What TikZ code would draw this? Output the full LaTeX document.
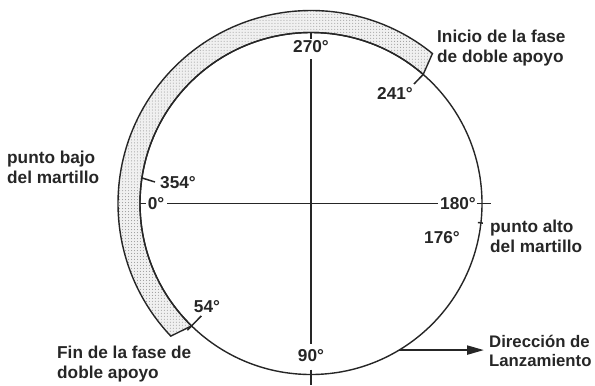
\documentclass[tikz,border=0pt]{standalone}
\usepackage{fontspec}
\setmainfont{Liberation Sans}
\usetikzlibrary{patterns,arrows.meta,calc}
\begin{document}
\begin{tikzpicture}[x=1bp,y=-1bp,
  lbl/.style={font=\fontsize{17.3}{20}\selectfont\bfseries, text=black!85, inner sep=0pt},
  txt/.style={lbl, align=left, anchor=west},
  axis/.style={line width=1.8bp, draw=black!85},
  rim/.style={line width=1.4bp, draw=black!85},
  tickln/.style={line width=1.5bp, draw=black!85}]
\useasboundingbox (0,0) rectangle (595,385);
\coordinate (c) at (311,203.5);
% shaded band (double support phase)
\draw[rim, preaction={fill=gray!12}, pattern=dots, pattern color=gray!85]
  ($(c)+(134.3:171)$) arc[start angle=134.3,end angle=311,radius=171]
  -- ($(c)+(309:193)$) arc[start angle=309,end angle=136.6,radius=193] -- cycle;
% main circle
\draw[rim] (c) circle[radius=171];
% labels
\node[lbl, outer sep=6bp] (l270) at (311,47) {270°};
\node[lbl, outer sep=6bp] (l90) at (311,356) {90°};
\node[lbl, outer sep=3bp] (l0) at (156,203.5) {0°};
\node[lbl, outer sep=2bp] (l180) at (458,203.5) {180°};
\node[lbl, anchor=west] (l354) at (160,183) {354°};
\node[lbl] (l241) at (395,93) {241°};
\node[lbl] (l54) at (207,307) {54°};
\node[lbl] (l176) at (442,238) {176°};
% axes
\draw[axis] (l270) -- (l90);
\draw[axis] (l0) -- (l180);
% ticks
\coordinate (t270a) at ($(c)+(270:171)$);
\coordinate (t270b) at ($(c)+(270:165)$);
\draw[tickln] (t270a) -- (t270b);
\coordinate (t0a) at ($(c)+(180:171)$);
\coordinate (t0b) at ($(c)+(180:165)$);
\draw[tickln] (t0a) -- (t0b);
\coordinate (t180a) at ($(c)+(0:166)$);
\coordinate (t180b) at ($(c)+(0:180)$);
\draw[tickln] (t180a) -- (t180b);
\coordinate (t90a) at ($(c)+(90:166)$);
\coordinate (t90b) at (311,385);
\draw[tickln] (t90a) -- (t90b);
\coordinate (t354a) at ($(c)+(188.6:171)$);
\coordinate (t354b) at (155,182);
\draw[tickln] (t354a) -- (t354b);
\coordinate (t241a) at ($(c)+(311:171)$);
\coordinate (t241b) at (414,84);
\draw[tickln] (t241a) -- (t241b);
\coordinate (t54a) at ($(c)+(134.3:177)$);
\coordinate (t54b) at ($(c)+(134.3:157)$);
\draw[tickln] (t54a) -- (t54b);
\coordinate (t176a) at ($(c)+(6.5:168)$);
\coordinate (t176b) at ($(c)+(6.5:173)$);
\draw[tickln] (t176a) -- (t176b);
% direction arrow
\coordinate (as) at ($(c)+(59:171)$);
\coordinate (ae) at (484,0);
\draw[line width=2.2bp, draw=black!85, -{Triangle[length=17bp,width=9bp]}] (as) -- (as -| ae);
% texts
\node[txt] (inicio) at (437,48) {Inicio de la fase\\de doble apoyo};
\node[txt] (bajo) at (7,167.5) {punto bajo\\del martillo};
\node[txt] (alto) at (490,236) {punto alto\\del martillo};
\node[txt] (fin) at (57,364) {Fin de la fase de\\doble apoyo};
\node[txt, font=\fontsize{16.8}{19}\selectfont\bfseries] (dir) at (489,351) {Dirección de\\Lanzamiento};
\end{tikzpicture}
\end{document}
